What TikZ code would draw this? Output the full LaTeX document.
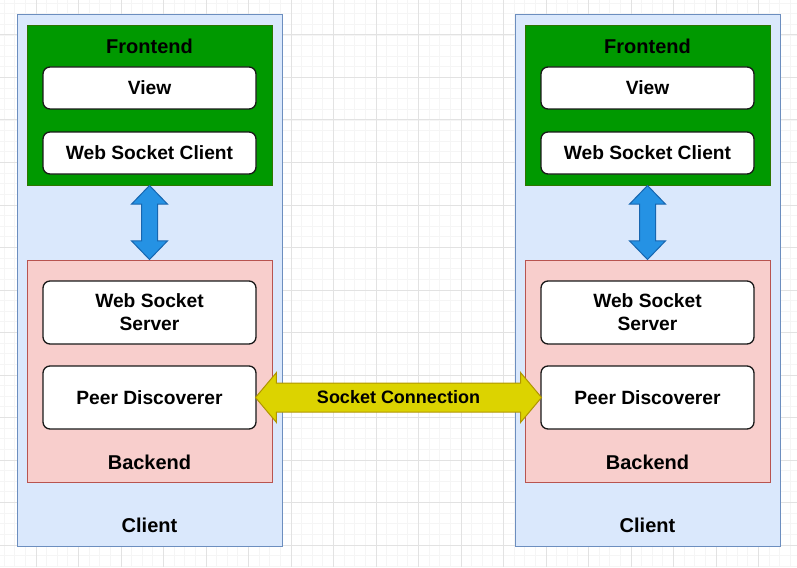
\documentclass[tikz,border=0pt]{standalone}
\usepackage{fontspec}
\setmainfont{Liberation Sans}
\usetikzlibrary{shapes.arrows,calc}
\definecolor{gridminor}{HTML}{F5F5F5}
\definecolor{gridmajor}{HTML}{E2E2E2}
\definecolor{clientfill}{HTML}{DAE8FC}
\definecolor{clientline}{HTML}{6C8EBF}
\definecolor{frontfill}{HTML}{009900}
\definecolor{frontline}{HTML}{2D7600}
\definecolor{backfill}{HTML}{F8CECC}
\definecolor{backline}{HTML}{B85450}
\definecolor{linkfill}{HTML}{2592E4}
\definecolor{linkline}{HTML}{1766B0}
\definecolor{sockfill}{HTML}{DCD300}
\definecolor{sockline}{HTML}{B09500}
\tikzset{
  layer/.style={draw, line width=1pt, minimum width=245pt, inner sep=0pt},
  part/.style={draw=black!90, fill=white, line width=1.3pt, rounded corners=7pt,
    minimum width=213pt, inner sep=0pt, align=center,
    font=\bfseries\fontsize{19.2}{23}\selectfont},
  heading/.style={font=\bfseries\fontsize{20}{24}\selectfont, inner sep=0pt},
}
\begin{document}
\begin{tikzpicture}[x=1pt,y=-1pt]
\useasboundingbox (0,0) rectangle (797,567);
% background grid
\begin{scope}
\clip (0,0) rectangle (797,567);
\foreach \i in {0,...,76} \draw[gridminor, line width=0.8pt] ({-6.5+10.625*\i},0) -- ++(0,567);
\foreach \i in {0,...,55} \draw[gridminor, line width=0.8pt] (0,{-7.5+10.625*\i}) -- ++(797,0);
\foreach \i in {0,...,19} \draw[gridmajor, line width=1pt] ({-6.5+42.5*\i},0) -- ++(0,567);
\foreach \i in {0,...,14} \draw[gridmajor, line width=1pt] (0,{-7.5+42.5*\i}) -- ++(797,0);
\end{scope}
% the two clients
\foreach \side/\dx in {L/0,R/498}{
  \node[draw=clientline, fill=clientfill, line width=1pt, minimum width=265pt,
    minimum height=531pt, inner sep=0pt] (client\side) at (149.5+\dx,280.5) {};
  \node[heading] (clientlabel\side) at (149.5+\dx,525) {Client};
  \node[layer, draw=frontline, fill=frontfill, minimum height=159pt] (fe\side) at (149.5+\dx,105.5) {};
  \node[heading] (felabel\side) at (149.5+\dx,46) {Frontend};
  \node[part, minimum height=42pt] (view\side) at (149.5+\dx,88) {View};
  \node[part, minimum height=42pt] (wsc\side) at (149.5+\dx,153) {Web Socket Client};
  \node[layer, draw=backline, fill=backfill, minimum height=222pt] (be\side) at (149.5+\dx,371) {};
  \node[heading] (belabel\side) at (149.5+\dx,462) {Backend};
  \node[part, minimum height=63pt] (wss\side) at (149.5+\dx,312.5) {Web Socket\\Server};
  \node[part, minimum height=63pt] (pd\side) at (149.5+\dx,397.5) {Peer Discoverer};
  % frontend <-> backend
  \node[double arrow, draw=linkline, fill=linkfill, line width=1pt, rotate=90,
    minimum height=74pt, minimum width=0pt, inner xsep=0pt, inner ysep=7.5pt,
    double arrow head extend=10pt, double arrow tip angle=88]
    (link\side) at ($(fe\side.south)!0.5!(be\side.north)$) {};
}
% socket between the peers
\node[double arrow, draw=sockline, fill=sockfill, line width=1pt,
  minimum height=286pt, minimum width=0pt, inner xsep=0pt, inner ysep=7.6pt,
  text height=12.8pt, text depth=0pt,
  double arrow head extend=10.5pt, double arrow tip angle=100,
  font=\bfseries\fontsize{18}{20}\selectfont]
  (socket) at ($(pdL.east)!0.5!(pdR.west)$) {Socket Connection};
\end{tikzpicture}
\end{document}
